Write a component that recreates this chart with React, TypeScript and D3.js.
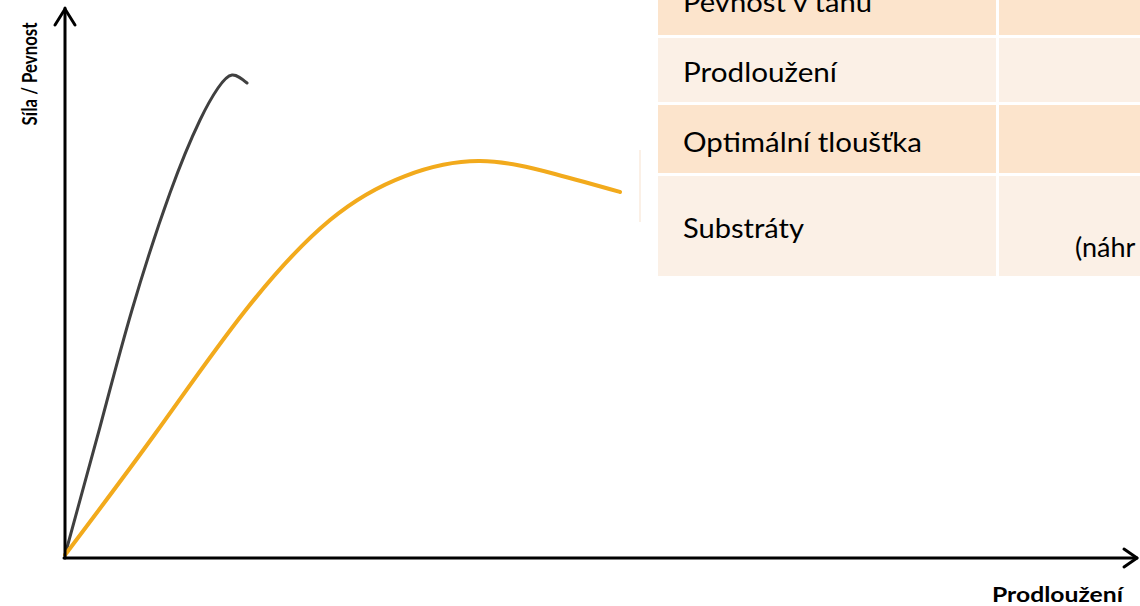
import React from "react";
import * as d3 from "d3";

const W = 1140;
const H = 606;

// Curve data (elongation vs. force, arbitrary units)
const grayElong = [0, 3.27, 6.26, 9.81, 12.62, 14.3, 15.61, 17.01];
const grayForce = [0, 23.49, 44.95, 66.42, 79.82, 85.69, 88.07, 86.61];
const orangeElong = [0, 8.41, 16.82, 24.77, 31.78, 38.79, 45.79, 51.87];
const orangeForce = [0, 22.2, 44.77, 61.47, 69.54, 72.29, 69.91, 66.61];

const yAxisLabel = "Síla / Pevnost";
const xAxisLabel = "Prodloužení";

const tableRowLabels = ["Pevnost v tahu", "Prodloužení", "Optimální tloušťka", "Substráty"];
const tableRowValues = ["", "", "", "(náhr"];

export default function App() {
  const x = d3.scaleLinear().domain([0, 100]).range([65, 1135]);
  const y = d3.scaleLinear().domain([0, 100]).range([555, 10]);

  const line = d3
    .line<[number, number]>()
    .x((d) => x(d[0]))
    .y((d) => y(d[1]))
    .curve(d3.curveNatural);

  const gray: [number, number][] = grayElong.map((e, i) => [e, grayForce[i]]);
  const orange: [number, number][] = orangeElong.map((e, i) => [e, orangeForce[i]]);

  // table layout
  const rowTops = [-30, 38, 105, 176];
  const rowBottoms = [35, 102, 173, 276];
  const rowFills = ["#FCE4CC", "#FBF0E6", "#FCE4CC", "#FBF0E6"];
  const labelBaselines = [12, 82, 152, 238];
  const labelWidths = [189, 154, 239, 121];

  const axisY = 558;
  const axisX = 65;

  return (
    <svg
      width={W}
      height={H}
      style={{ position: "absolute", left: 0, top: 0, background: "#fff" }}
      fontFamily="Lato, 'Open Sans', sans-serif"
    >
      <rect x={0} y={0} width={W} height={H} fill="#fff" />

      {/* table */}
      {rowTops.map((t, i) => (
        <g key={i}>
          <rect x={658} y={t} width={338} height={rowBottoms[i] - t} fill={rowFills[i]} />
          <rect x={999} y={t} width={W - 999} height={rowBottoms[i] - t} fill={rowFills[i]} />
          <text
            x={683}
            y={labelBaselines[i]}
            fontSize={27}
            fill="#000"
            textLength={labelWidths[i]}
            lengthAdjust="spacingAndGlyphs"
          >
            {tableRowLabels[i]}
          </text>
          {tableRowValues[i] && (
            <text x={1075} y={257} fontSize={27} fill="#000">
              {tableRowValues[i]}
            </text>
          )}
        </g>
      ))}
      <line x1={640} y1={150} x2={640} y2={222} stroke="#FBF0E6" strokeWidth={2} />

      {/* curves */}
      <path d={line(gray) || ""} fill="none" stroke="#404040" strokeWidth={3} strokeLinecap="round" />
      <path d={line(orange) || ""} fill="none" stroke="#F2AA1C" strokeWidth={4} strokeLinecap="round" />

      {/* axes */}
      <g stroke="#000" strokeWidth={3} fill="none" strokeLinecap="round" strokeLinejoin="round">
        <line x1={axisX} y1={axisY} x2={axisX} y2={8} />
        <polyline points={`${axisX - 10},25 ${axisX},9 ${axisX + 10},25`} />
        <line x1={axisX - 1} y1={axisY} x2={1137} y2={axisY} />
        <polyline points={`1124,549 1137,${axisY} 1124,567`} />
      </g>

      {/* axis labels */}
      <text
        transform="translate(37,74) rotate(-90)"
        textAnchor="middle"
        fontSize={20}
        fontWeight="bold"
        fill="#000"
        textLength={103}
        lengthAdjust="spacingAndGlyphs"
      >
        {yAxisLabel}
      </text>
      <text
        x={992}
        y={602}
        fontSize={20}
        fontWeight="bold"
        fill="#000"
        textLength={131}
        lengthAdjust="spacingAndGlyphs"
      >
        {xAxisLabel}
      </text>
    </svg>
  );
}
